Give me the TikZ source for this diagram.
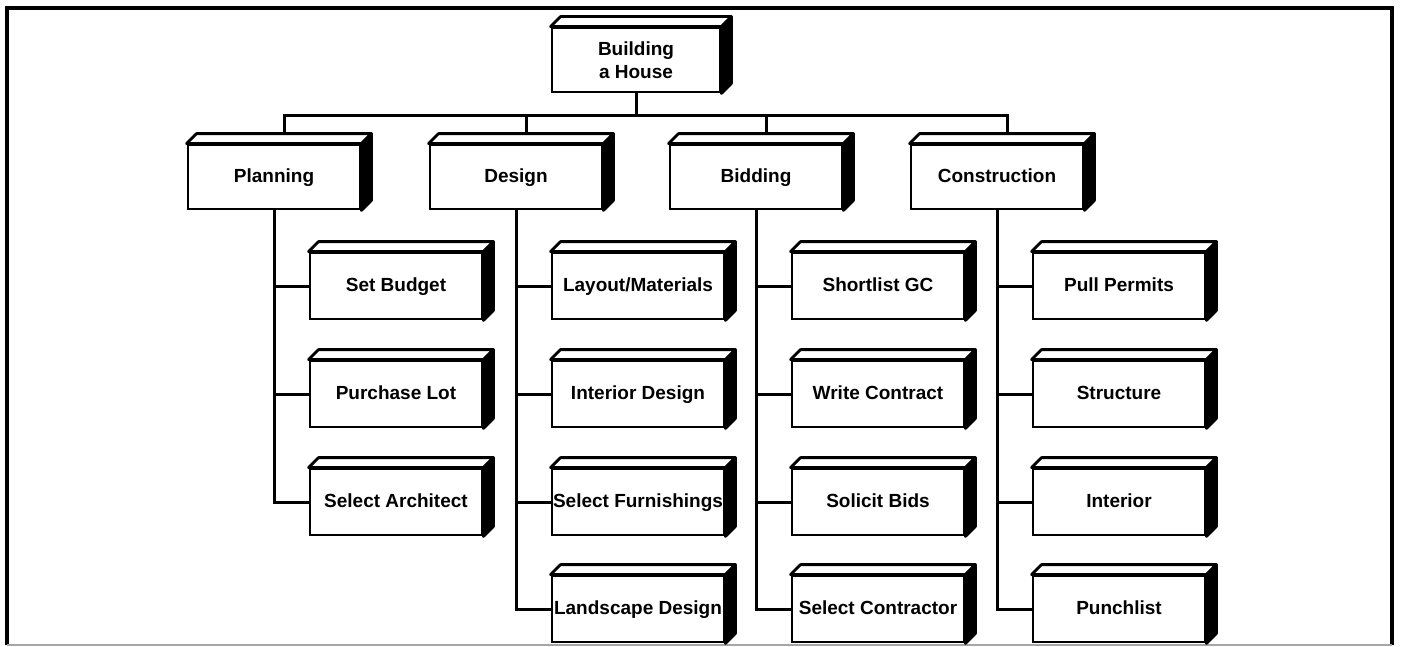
\documentclass[tikz,border=0pt]{standalone}
\usepackage{fontspec}
\setmainfont{Liberation Sans}
\usetikzlibrary{calc}
\newcommand\extrude[1]{%
  \filldraw[fill=white, line width=1.4pt, line join=round]
    (#1.north west) -- ++(10,-10) -- ($(#1.north east)+(10,-10)$) -- (#1.north east) -- cycle;
  \filldraw[fill=black, line width=1.4pt, line join=round]
    (#1.north east) -- ++(10,-10) -- ($(#1.south east)+(10,-10)$) -- (#1.south east) -- cycle;
}
\begin{document}
\begin{tikzpicture}[x=0.5pt,y=-0.5pt,
  box/.style={draw, line width=1.4pt, fill=white, inner sep=0pt,
    font=\bfseries\fontsize{9.5}{11.5}\selectfont, align=center},
  rootbox/.style={box, minimum width=84pt, minimum height=32pt},
  phase/.style={box, minimum width=86pt, minimum height=32pt,
    text height=7pt, text depth=2pt},
  task/.style={box, minimum width=86pt, minimum height=33pt,
    text height=7pt, text depth=2pt},
  link/.style={line width=1.5pt}]
\useasboundingbox (0,0) rectangle (1401,647);

% outer frame
\draw[line width=1.8pt] (7,645) -- (7,8) -- (1392,8) -- (1392,645);
\draw[black!35, line width=0.6pt] (7,645) -- (1392,645);

% root and phases
\node[rootbox] (root) at (636,60) {Building\\a House};
\node[phase] (plan) at (274,177) {Planning};
\node[phase] (des)  at (516,177) {Design};
\node[phase] (bid)  at (756,177) {Bidding};
\node[phase] (cons) at (997,177) {Construction};

% tasks
\node[task] (p1) at (396,286) {Set Budget};
\node[task] (p2) at (396,394) {Purchase Lot};
\node[task] (p3) at (396,502) {Select Architect};

\node[task] (d1) at (638,286) {Layout/Materials};
\node[task] (d2) at (638,394) {Interior Design};
\node[task] (d3) at (638,502) {Select Furnishings};
\node[task] (d4) at (638,609) {Landscape Design};

\node[task] (b1) at (878,286) {Shortlist GC};
\node[task] (b2) at (878,394) {Write Contract};
\node[task] (b3) at (878,502) {Solicit Bids};
\node[task] (b4) at (878,609) {Select Contractor};

\node[task] (c1) at (1119,286) {Pull Permits};
\node[task] (c2) at (1119,394) {Structure};
\node[task] (c3) at (1119,502) {Interior};
\node[task] (c4) at (1119,609) {Punchlist};

% 3D faces
\foreach \n in {root,plan,des,bid,cons,p1,p2,p3,d1,d2,d3,d4,b1,b2,b3,b4,c1,c2,c3,c4}
  {\extrude{\n}}

% bus from the root to the phases
\path (root.south) ++(0,22) coordinate (hub);
\foreach \n in {plan,des,bid,cons}
  {\coordinate (\n-top) at ($(\n.north)+(10,-10)$);}
\draw[link] (root.south) -- (hub);
\draw[link] (plan-top) -- (plan-top |- hub) -- (cons-top |- hub) -- (cons-top);
\draw[link] (des-top) -- (des-top |- hub);
\draw[link] (bid-top) -- (bid-top |- hub);

% stems from the phases to their tasks
\foreach \t in {p1,p2,p3} {\draw[link] (plan.south) |- (\t.west);}
\foreach \t in {d1,d2,d3,d4} {\draw[link] (des.south) |- (\t.west);}
\foreach \t in {b1,b2,b3,b4} {\draw[link] (bid.south) |- (\t.west);}
\foreach \t in {c1,c2,c3,c4} {\draw[link] (cons.south) |- (\t.west);}
\end{tikzpicture}
\end{document}
